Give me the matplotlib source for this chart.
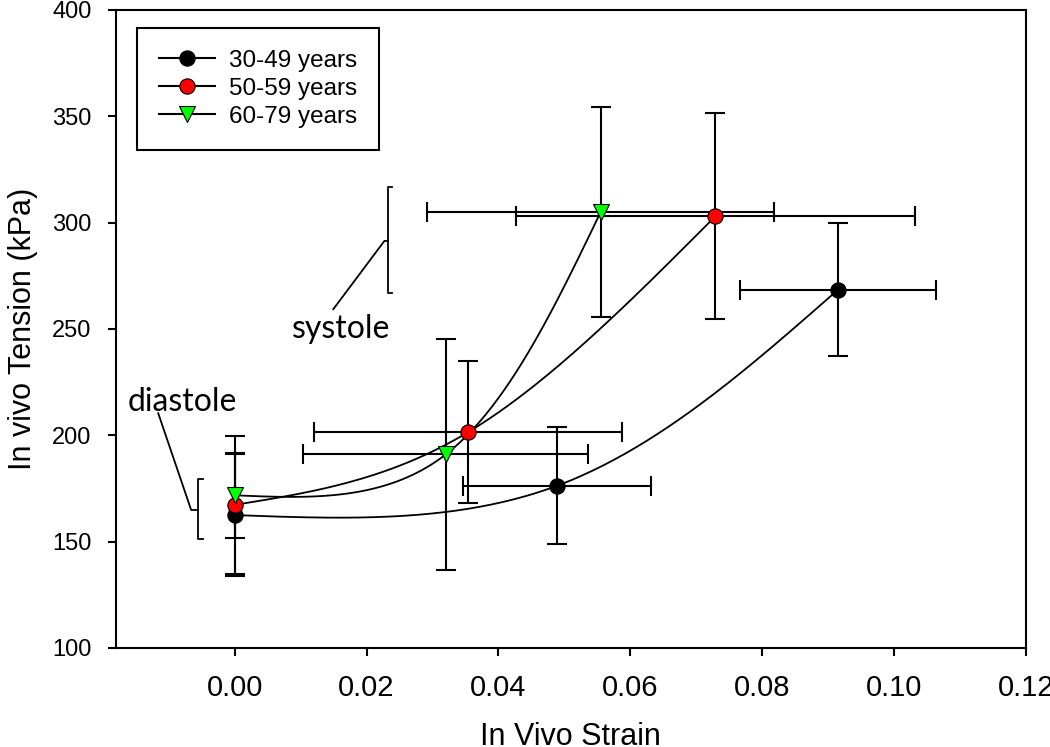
import matplotlib

matplotlib.use("Agg")
import matplotlib.pyplot as plt
import numpy as np

plt.rcParams["font.family"] = ["Liberation Sans", "DejaVu Sans"]

# mean strain / tension per age group, with SD error bars
strain_30 = [0.0, 0.0489, 0.0915]
tension_30 = [162.5, 176.3, 268.5]
strain_err_30 = [0.0, 0.0143, 0.0148]
tension_err_30 = [28.5, 27.5, 31.3]

strain_50 = [0.0, 0.0354, 0.0729]
tension_50 = [167.3, 201.5, 303.0]
strain_err_50 = [0.0, 0.0234, 0.0302]
tension_err_50 = [32.5, 33.3, 48.4]

strain_60 = [0.0, 0.0320, 0.0555]
tension_60 = [171.8, 191.0, 305.0]
strain_err_60 = [0.0, 0.0216, 0.0263]
tension_err_60 = [20.0, 54.3, 49.3]

labels = ["30-49 years", "50-59 years", "60-79 years"]
x_ticks = [0.00, 0.02, 0.04, 0.06, 0.08, 0.10, 0.12]
y_ticks = [100, 150, 200, 250, 300, 350, 400]


def spline_curve(xs, ys, n=80):
    """Natural parametric cubic spline (uniform parameter) through the points."""
    pts = np.column_stack([xs, ys]).astype(float)
    k = len(pts)
    A = np.zeros((k, k))
    rhs = np.zeros((k, 2))
    A[0, 0] = A[-1, -1] = 1.0
    for i in range(1, k - 1):
        A[i, i - 1:i + 2] = [1.0, 4.0, 1.0]
        rhs[i] = 6.0 * (pts[i - 1] - 2.0 * pts[i] + pts[i + 1])
    M = np.linalg.solve(A, rhs)
    segs = []
    u = np.linspace(0.0, 1.0, n)[:, None]
    for i in range(k - 1):
        seg = ((1 - u) * pts[i] + u * pts[i + 1]
               + ((1 - u) ** 3 - (1 - u)) * M[i] / 6.0
               + (u ** 3 - u) * M[i + 1] / 6.0)
        segs.append(seg if i == 0 else seg[1:])
    out = np.vstack(segs)
    return out[:, 0], out[:, 1]


fig = plt.figure(figsize=(10.5, 7.47), dpi=100)
ax = fig.add_axes([116 / 1050, 99 / 747, 910 / 1050, 638 / 747])

series = [
    (strain_30, tension_30, strain_err_30, tension_err_30, "o", "black", labels[0]),
    (strain_50, tension_50, strain_err_50, tension_err_50, "o", "#ff0000", labels[1]),
    (strain_60, tension_60, strain_err_60, tension_err_60, "v", "#00ff00", labels[2]),
]

handles = []
for xs, ys, xe, ye, marker, color, label in series:
    cx, cy = spline_curve(xs, ys)
    ax.plot(cx, cy, color="black", lw=1.3, zorder=2)
    ax.errorbar(xs, ys, xerr=xe, yerr=ye, fmt="none", ecolor="black",
                elinewidth=1.5, capsize=7, capthick=1.5, zorder=3)
    ax.plot(xs, ys, linestyle="none", marker=marker, markersize=11,
            markerfacecolor=color, markeredgecolor="black",
            markeredgewidth=0.8, zorder=4)
    h, = ax.plot([], [], color="black", lw=1.5, marker=marker, markersize=11,
                 markerfacecolor=color, markeredgecolor="black",
                 markeredgewidth=0.8, label=label)
    handles.append(h)

# systole bracket and leader
ax.plot([0.0238, 0.0232, 0.0232, 0.0238], [316.8, 316.8, 266.9, 266.9],
        color="black", lw=1.3)
ax.plot([0.0232, 0.0227, 0.01495], [291.4, 291.4, 259.3], color="black", lw=1.3)
ax.text(0.0162, 245.6, "systole", fontsize=23, family=["Lato", "DejaVu Sans"],
        ha="center", va="baseline")

# diastole bracket and leader
ax.plot([-0.0048, -0.0056, -0.0056, -0.0048], [179.3, 179.3, 151.1, 151.1],
        color="black", lw=1.3)
ax.plot([-0.0056, -0.0066, -0.0116], [164.9, 164.9, 210.4], color="black", lw=1.3)
ax.text(-0.0079, 211.5, "diastole", fontsize=23, family=["Lato", "DejaVu Sans"],
        ha="center", va="baseline")

ax.set_xlim(-0.018, 0.12)
ax.set_ylim(100, 400)
ax.set_xticks(x_ticks)
ax.set_xticklabels([f"{v:.2f}" for v in x_ticks])
ax.set_yticks(y_ticks)
ax.tick_params(axis="x", direction="out", length=6, width=1.5, pad=12.5, labelsize=21)
ax.tick_params(axis="y", direction="out", length=6, width=1.5, pad=11.5, labelsize=17)
for sp in ax.spines.values():
    sp.set_linewidth(1.5)

ax.set_xlabel("In Vivo Strain", fontsize=22)
ax.set_ylabel("In vivo Tension (kPa)", fontsize=22)
ax.xaxis.set_label_coords(0.499, -0.116)
ax.yaxis.set_label_coords(-0.086, 0.5)

leg = ax.legend(handles=handles, loc="upper left", bbox_to_anchor=(0.023, 0.972),
                borderaxespad=0, fontsize=17.5, fancybox=False, framealpha=1,
                edgecolor="black", handlelength=2.3, handletextpad=0.6,
                labelspacing=0.25, borderpad=0.9)
leg.get_frame().set_linewidth(1.5)

fig.savefig("out.png", dpi=100)
plt.close(fig)
